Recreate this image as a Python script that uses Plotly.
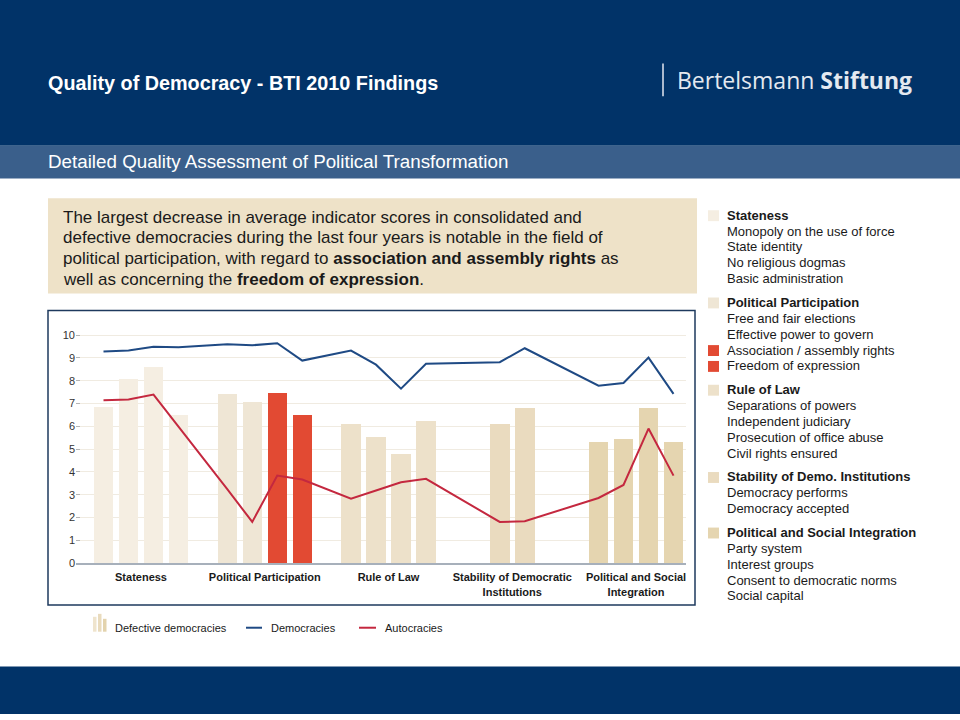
import plotly.graph_objects as go

# ---------------- data ----------------
group_ticks = ["Stateness", "Political Participation", "Rule of Law",
               "Stability of Democratic<br>Institutions", "Political and Social<br>Integration"]
legend_headers = ["Stateness", "Political Participation", "Rule of Law",
                  "Stability of Demo. Institutions", "Political and Social Integration"]
indicators = [
    ["Monopoly on the use of force", "State identity", "No religious dogmas", "Basic administration"],
    ["Free and fair elections", "Effective power to govern", "Association / assembly rights", "Freedom of expression"],
    ["Separations of powers", "Independent judiciary", "Prosecution of office abuse", "Civil rights ensured"],
    ["Democracy performs", "Democracy accepted"],
    ["Party system", "Interest groups", "Consent to democratic norms", "Social capital"],
]
highlighted = ["Association / assembly rights", "Freedom of expression"]

defective = [[6.84, 8.04, 8.59, 6.48],
             [7.41, 7.06, 7.46, 6.48],
             [6.07, 5.52, 4.78, 6.22],
             [6.07, 6.81],
             [5.30, 5.42, 6.81, 5.30]]
democracies = [[9.28, 9.32, 9.49, 9.46],
               [9.59, 9.55, 9.64, 8.88],
               [9.32, 8.70, 7.65, 8.74],
               [8.81, 9.42],
               [7.78, 7.90, 9.01, 7.42]]
autocracies = [[7.14, 7.17, 7.39, 6.00],
               [3.25, 1.81, 3.84, 3.67],
               [2.83, 3.19, 3.55, 3.70],
               [1.81, 1.84],
               [2.86, 3.43, 5.90, 3.84]]
y_ticks = list(range(0, 11))

# ---------------- styles ----------------
group_colors = ["#f5eee2", "#efe6d5", "#ede1ca", "#eadbbf", "#e5d5b0"]
red = "#e24a33"
navy_line = "#1f4a84"
red_line = "#c4283f"
FONT = "Arial, Liberation Sans, sans-serif"
W, H = 960, 720
GROUP_PITCH = 4.95
BAR_W = 0.78


def px(x):
    return x / W


def py(y):
    return 1 - y / H


# positions from structure
xs, ys_def, ys_dem, ys_aut, colors, names, centers = [], [], [], [], [], [], []
for g, inds in enumerate(indicators):
    c = 1.5 + GROUP_PITCH * g
    centers.append(c)
    for i, name in enumerate(inds):
        xs.append(c + i - (len(inds) - 1) / 2)
        ys_def.append(defective[g][i])
        ys_dem.append(democracies[g][i])
        ys_aut.append(autocracies[g][i])
        colors.append(red if name in highlighted else group_colors[g])
        names.append(name)

fig = go.Figure()
fig.add_trace(go.Bar(x=xs, y=ys_def, width=BAR_W, marker=dict(color=colors, line=dict(width=0)),
                     hovertext=names, name="Defective democracies", showlegend=False))
fig.add_trace(go.Scatter(x=xs, y=ys_dem, mode="lines", line=dict(color=navy_line, width=2),
                         hovertext=names, name="Democracies", showlegend=False))
fig.add_trace(go.Scatter(x=xs, y=ys_aut, mode="lines", line=dict(color=red_line, width=2),
                         hovertext=names, name="Autocracies", showlegend=False))

shapes = []
annotations = []


def rect(x0, y0, x1, y1, fill=None, line=None, lw=0, layer="below"):
    shapes.append(dict(type="rect", xref="paper", yref="paper",
                       x0=px(x0), x1=px(x1), y0=py(y1), y1=py(y0),
                       fillcolor=fill if fill else "rgba(0,0,0,0)",
                       line=dict(color=line if line else "rgba(0,0,0,0)", width=lw),
                       layer=layer))


def hline(x0, x1, y, color, lw):
    shapes.append(dict(type="line", xref="paper", yref="paper",
                       x0=px(x0), x1=px(x1), y0=py(y), y1=py(y),
                       line=dict(color=color, width=lw)))


def vline(x, y0, y1, color, lw):
    shapes.append(dict(type="line", xref="paper", yref="paper",
                       x0=px(x), x1=px(x), y0=py(y0), y1=py(y1),
                       line=dict(color=color, width=lw)))


def text(x, y, s, size, color="#1a1a1a", family=FONT, xanchor="left"):
    annotations.append(dict(xref="paper", yref="paper", x=px(x), y=py(y), text=s,
                            showarrow=False, xanchor=xanchor, yanchor="middle",
                            font=dict(size=size, color=color, family=family)))


# header bands
rect(0, 0, W, 147, fill="#013368")
rect(0, 147, W, 180, fill="#3a5f8b")
rect(0, 672, W, H, fill="#013368")
text(46, 84, "<b>Quality of Democracy - BTI 2010 Findings</b>", 19.8, "white")
text(46, 163, "Detailed Quality Assessment of Political Transformation", 18.8, "white")
vline(663, 64, 97, "#e4e9f0", 1.5)
text(675, 81, "Bertelsmann <b>Stiftung</b>", 23, "#e4e9f0", "Open Sans, sans-serif")

# text box
rect(48, 200, 697, 296, fill="#eee2c8")
para = ["The largest decrease in average indicator scores in consolidated and",
        "defective democracies during the last four years is notable in the field of",
        "political participation, with regard to <b>association and assembly rights</b> as",
        "well as concerning the <b>freedom of expression</b>."]
for k, line in enumerate(para):
    text(61, 219 + 21 * k, line, 17, "#1a1a1a")

# chart frame
rect(48, 313, 695, 610, line="#1e3a5e", lw=1.5, layer="above")

# right legend
y = 217
for g, inds in enumerate(indicators):
    rect(708, y - 5, 719, y + 6, fill=group_colors[g])
    text(725, y, "<b>" + legend_headers[g] + "</b>", 13)
    y += 16
    for name in inds:
        if name in highlighted:
            rect(708, y - 5, 719, y + 6, fill=red)
        text(725, y, name, 13)
        y += 16
    y += 8

# bottom legend
rect(93, 622, 96.5, 637, fill="#efe4cd")
rect(98, 619, 101.5, 637, fill="#e9dbbd")
rect(103, 624, 106.5, 637, fill="#e3d3ad")
text(113, 633, "Defective democracies", 11)
hline(246, 262, 633, navy_line, 2)
text(269, 633, "Democracies", 11)
hline(359, 376, 633, red_line, 2)
text(383, 633, "Autocracies", 11)

fig.update_layout(
    width=W, height=H, margin=dict(l=0, r=0, t=0, b=0),
    paper_bgcolor="white", plot_bgcolor="white",
    shapes=shapes, annotations=annotations, showlegend=False,
    bargap=0,
    xaxis=dict(domain=[px(76), px(686)], range=[-1.1, 23.3],
               tickvals=centers, ticktext=["<b>" + t + "</b>" for t in group_ticks],
               tickfont=dict(size=11, color="#1a1a1a", family=FONT),
               ticklabelstandoff=3,
               showline=True, linecolor="#a7b0bb", linewidth=1.5,
               showgrid=False, zeroline=False, ticks=""),
    yaxis=dict(domain=[py(568), py(324)], range=[0, 10.6],
               tickvals=y_ticks, tickfont=dict(size=11, color="#333333", family=FONT),
               showgrid=True, gridcolor="#f0ebe1", gridwidth=1,
               ticks="inside", ticklen=4, tickcolor="#b5b5b5",
               zeroline=False, showline=False),
)

fig.write_html("out.html", config={"displayModeBar": False},
               post_script="document.body.style.margin='0';document.body.style.overflow='hidden';")
